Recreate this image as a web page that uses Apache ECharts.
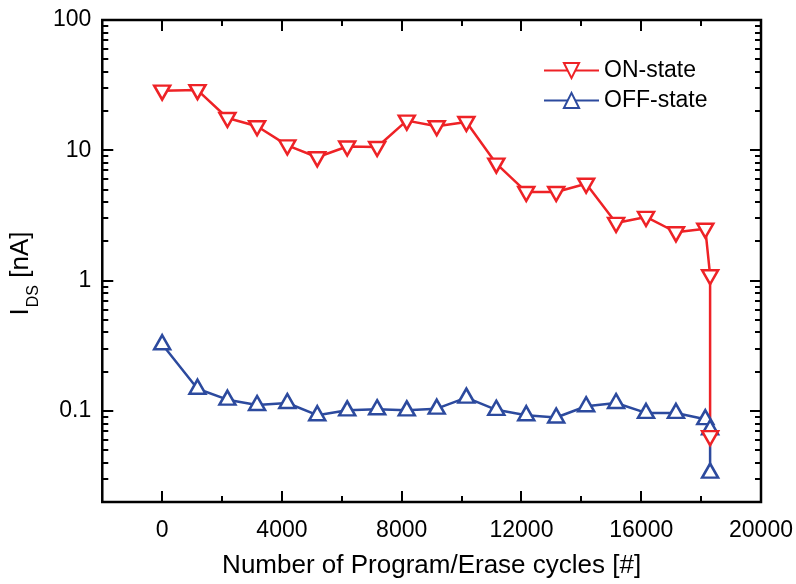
<!DOCTYPE html>
<html>
<head>
<meta charset="utf-8">
<script src="https://cdn.jsdelivr.net/npm/echarts@6/dist/echarts.min.js"></script>
<style>
  html, body { margin: 0; padding: 0; background: #fff; }
  #chart { width: 796px; height: 584px; }
</style>
</head>
<body>
<div id="chart"></div>
<script>
// ---- data ----
const cycles = [0, 1180, 2180, 3170, 4180, 5180, 6180, 7180, 8170, 9170, 10160,
  11160, 12160, 13160, 14160, 15160, 16160, 17160, 18140, 18300, 18300];
const onState = [28.7, 29.0, 17.7, 15.3, 10.9, 8.84, 10.7, 10.6, 16.9, 15.3, 16.5,
  7.9, 4.79, 4.79, 5.54, 2.77, 3.08, 2.35, 2.50, 1.10, 0.064];
const offState = [0.325, 0.148, 0.122, 0.111, 0.115, 0.0927, 0.101, 0.103, 0.101, 0.104, 0.1265,
  0.102, 0.0927, 0.089, 0.1086, 0.115, 0.0965, 0.0965, 0.0864, 0.0723, 0.0336];
const seriesNames = ['ON-state', 'OFF-state'];
const xMajorTicks = [0, 4000, 8000, 12000, 16000];
const xMinorTicks = [2000, 6000, 10000, 14000, 18000];
const yMajorTicks = [0.1, 1, 10];
const yMinorTicks = [0.03, 0.04, 0.05, 0.06, 0.07, 0.08, 0.09,
  0.2, 0.3, 0.4, 0.5, 0.6, 0.7, 0.8, 0.9,
  2, 3, 4, 5, 6, 7, 8, 9,
  20, 30, 40, 50, 60, 70, 80, 90];

// ---- build ----
const FONT = '"Liberation Sans", Arial, Helvetica, sans-serif';
const RED = '#ee2226';
const BLUE = '#2c4a9e';
const DOWN_TRI = 'path://M0,0L2,0L1,1.732Z';
const UP_TRI = 'path://M1,0L2,1.732L0,1.732Z';

const onData = cycles.map((c, i) => [c, onState[i]]);
const offData = cycles.map((c, i) => [c, offState[i]]);

// tick marks: [x, y, kind] kind 0 = x major, 1 = x minor, 2 = y major, 3 = y minor
const tickData = []
  .concat(xMajorTicks.map(v => [v, 1, 0]))
  .concat(xMinorTicks.map(v => [v, 1, 1]))
  .concat(yMajorTicks.map(v => [0, v, 2]))
  .concat(yMinorTicks.map(v => [0, v, 3]));

function isPow10(v) {
  const l = Math.log10(v);
  return Math.abs(l - Math.round(l)) < 1e-6;
}

const chart = echarts.init(document.getElementById('chart'), null, { renderer: 'canvas' });
chart.setOption({
  animation: false,
  backgroundColor: '#fff',
  textStyle: { fontFamily: FONT, color: '#000' },
  grid: {
    left: 102, right: 35, top: 20, bottom: 82,
    show: true, borderColor: '#000', borderWidth: 2.5, backgroundColor: 'transparent'
  },
  legend: {
    data: seriesNames,
    orient: 'vertical',
    left: 543, top: 59,
    itemWidth: 55, itemHeight: 19, itemGap: 7,
    padding: 0,
    textStyle: { fontFamily: FONT, fontSize: 23, color: '#000' }
  },
  xAxis: {
    type: 'value',
    min: -2000, max: 20000, interval: 2000,
    name: 'Number of Program/Erase cycles [#]',
    nameLocation: 'middle', nameGap: 51,
    nameTextStyle: { fontFamily: FONT, fontSize: 26, color: '#000' },
    axisLine: { show: false },
    axisTick: { show: false },
    splitLine: { show: false },
    axisLabel: {
      margin: 17, fontFamily: FONT, fontSize: 23, color: '#000',
      formatter: v => (v >= 0 && v % 4000 === 0) ? String(v) : ''
    }
  },
  yAxis: {
    type: 'log', logBase: 10,
    min: 0.02, max: 100,
    name: '{i|I}{sub|DS}{i| [nA]}',
    nameLocation: 'middle', nameGap: 57,
    nameTextStyle: {
      fontFamily: FONT, color: '#000',
      padding: [0, 25, 0, 0],
      rich: {
        i: { fontFamily: FONT, fontSize: 26, color: '#000' },
        sub: { fontFamily: FONT, fontSize: 16, color: '#000', padding: [26, 0, 0, 1] }
      }
    },
    axisLine: { show: false },
    axisTick: { show: false },
    splitLine: { show: false },
    minorTick: { show: false },
    axisLabel: {
      margin: 11, fontFamily: FONT, fontSize: 23, color: '#000',
      formatter: v => isPow10(v) ? String(+v.toPrecision(6)) : ''
    }
  },
  series: [
    {
      type: 'custom',
      name: 'ticks',
      silent: true,
      clip: false,
      encode: { x: 0, y: 1 },
      data: tickData,
      renderItem: function (params, api) {
        const kind = api.value(2);
        const cs = params.coordSys;
        const p = api.coord([api.value(0), api.value(1)]);
        const style = { stroke: '#000', lineWidth: 2 };
        const len = (kind === 0 || kind === 2) ? 11 : 6;
        if (kind <= 1) {
          const x = Math.round(p[0]);
          return { type: 'group', children: [
            { type: 'line', shape: { x1: x, y1: cs.y + cs.height, x2: x, y2: cs.y + cs.height - len }, style },
            { type: 'line', shape: { x1: x, y1: cs.y, x2: x, y2: cs.y + len }, style }
          ]};
        } else {
          const y = Math.round(p[1]);
          return { type: 'group', children: [
            { type: 'line', shape: { x1: cs.x, y1: y, x2: cs.x + len, y2: y }, style },
            { type: 'line', shape: { x1: cs.x + cs.width, y1: y, x2: cs.x + cs.width - len, y2: y }, style }
          ]};
        }
      }
    },
    {
      type: 'line',
      name: seriesNames[1],
      data: offData,
      symbol: UP_TRI,
      symbolSize: [16, 14],
      symbolKeepAspect: false,
      symbolOffset: [0, -2],
      showAllSymbol: true,
      lineStyle: { color: BLUE, width: 2.5 },
      itemStyle: { color: '#fff', borderColor: BLUE, borderWidth: 2.5 },
      emphasis: { disabled: true }
    },
    {
      type: 'line',
      name: seriesNames[0],
      data: onData,
      symbol: DOWN_TRI,
      symbolSize: [16, 14],
      symbolKeepAspect: false,
      symbolOffset: [0, 2],
      showAllSymbol: true,
      lineStyle: { color: RED, width: 2.5 },
      itemStyle: { color: '#fff', borderColor: RED, borderWidth: 2.5 },
      emphasis: { disabled: true }
    }
  ]
});
</script>
</body>
</html>
